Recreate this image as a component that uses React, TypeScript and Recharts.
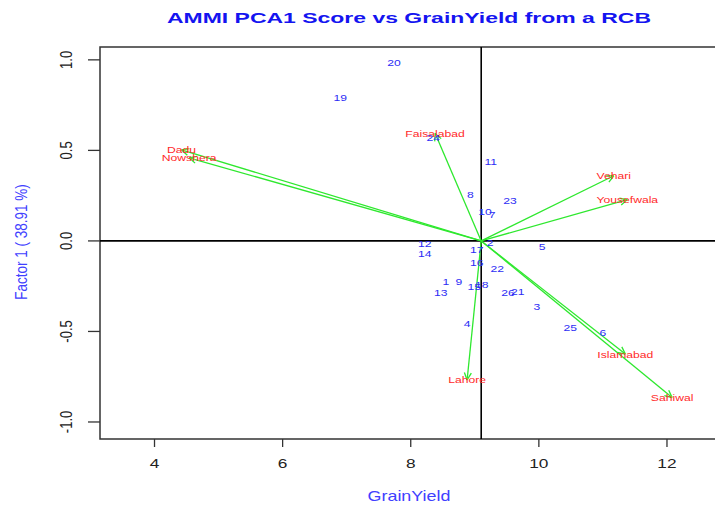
import {
  ScatterChart,
  Scatter,
  XAxis,
  YAxis,
  ReferenceLine,
  ReferenceArea,
} from "recharts";

// genotype scores (GrainYield, PCA1)
const genotypes = [
  "1", "2", "3", "4", "5", "6", "7", "8", "9", "10", "11", "12", "13",
  "14", "15", "16", "17", "18", "19", "20", "21", "22", "23", "24", "25", "26",
];
const genoYield = [
  8.55, 9.24, 9.97, 8.88, 10.05, 11.0, 9.27, 8.93, 8.75, 9.16, 9.25, 8.22, 8.47,
  8.22, 8.99, 9.03, 9.03, 9.11, 6.9, 7.74, 9.67, 9.35, 9.55, 8.35, 10.49, 9.52,
];
const genoPca1 = [
  -0.222, -0.007, -0.36, -0.454, -0.029, -0.504, 0.147, 0.258, -0.222, 0.164, 0.44, -0.012, -0.283,
  -0.067, -0.25, -0.117, -0.045, -0.239, 0.79, 0.986, -0.277, -0.15, 0.225, 0.572, -0.476, -0.283,
];

// environment scores
const environments = ["Dadu", "Nowshera", "Faisalabad", "Vehari", "Yousefwala", "Islamabad", "Sahiwal", "Lahore"];
const envYield = [4.42, 4.54, 8.38, 11.17, 11.38, 11.35, 12.08, 8.88];
const envPca1 = [0.503, 0.459, 0.594, 0.36, 0.228, -0.625, -0.865, -0.768];

const meanYield = 9.1;

const xTicks = [4, 6, 8, 10, 12];
const yTicks = [-1, -0.5, 0, 0.5, 1];
const yTickLabels = ["-1.0", "-0.5", "0.0", "0.5", "1.0"];

const xDomain = [3.149, 13.14];
const yDomain = [-1.094, 1.071];

const genoData = genotypes.map((g, i) => ({ name: g, x: genoYield[i], y: genoPca1[i] }));
const envData = environments.map((e, i) => ({ name: e, x: envYield[i], y: envPca1[i] }));

const FONT = "'Liberation Sans', Arial, sans-serif";
const SX = 1.28; // the picture is stretched sideways

const SText = ({ x, y, size, fill, weight, rotate, children, baseline = "central" }: any) => {
  const t = `translate(${x},${y}) scale(${SX},1)` + (rotate ? ` rotate(${rotate})` : "");
  return (
    <text
      transform={t}
      fontSize={size}
      fill={fill}
      fontWeight={weight}
      textAnchor="middle"
      dominantBaseline={baseline}
      fontFamily={FONT}
    >
      {children}
    </text>
  );
};

const XTick = ({ x, y, payload }: any) => (
  <SText x={x} y={y + 19} size={13.5} fill="#222" baseline="auto">
    {payload.value}
  </SText>
);

const YTick = ({ x, y, payload }: any) => {
  const idx = yTicks.indexOf(payload.value);
  return (
    <SText x={x - 20} y={y} size={13} fill="#222" rotate={-90}>
      {yTickLabels[idx]}
    </SText>
  );
};

const Arrow = (p: any) => {
  const { x1, y1, x2, y2 } = p;
  const ang = Math.atan2(y2 - y1, x2 - x1);
  const L = 8;
  const a = Math.PI / 7;
  const stroke = "#2ee82e";
  return (
    <g>
      <line x1={x1} y1={y1} x2={x2} y2={y2} stroke={stroke} strokeWidth={1.3} />
      <line x1={x2} y1={y2} x2={x2 - L * Math.cos(ang - a)} y2={y2 - L * Math.sin(ang - a)} stroke={stroke} strokeWidth={1.3} />
      <line x1={x2} y1={y2} x2={x2 - L * Math.cos(ang + a)} y2={y2 - L * Math.sin(ang + a)} stroke={stroke} strokeWidth={1.3} />
    </g>
  );
};

const EnvLabel = ({ cx, cy, payload }: any) => (
  <SText x={cx} y={cy} size={9.5} fill="#ff2a2a">
    {payload.name}
  </SText>
);

const GenoLabel = ({ cx, cy, payload }: any) => (
  <SText x={cx} y={cy} size={9.5} fill="#2d2df5">
    {payload.name}
  </SText>
);

export default function App() {
  return (
    <div style={{ position: "absolute", left: 0, top: 0, width: 715, height: 508, overflow: "hidden", background: "#fff" }}>
      <ScatterChart width={760} height={508} margin={{ top: 47, right: 20, bottom: 0, left: 0 }}>
        <XAxis
          type="number"
          dataKey="x"
          domain={xDomain}
          ticks={xTicks}
          allowDataOverflow
          height={69}
          axisLine={false}
          tickSize={8}
          tickLine={{ stroke: "#333", strokeWidth: 1.3 }}
          tick={<XTick />}
        />
        <YAxis
          type="number"
          dataKey="y"
          domain={yDomain}
          ticks={yTicks}
          allowDataOverflow
          width={100}
          axisLine={false}
          tickSize={12}
          tickLine={{ stroke: "#333", strokeWidth: 1.3 }}
          tick={<YTick />}
        />
        <ReferenceArea
          x1={xDomain[0]}
          x2={xDomain[1]}
          y1={yDomain[0]}
          y2={yDomain[1]}
          fill="none"
          stroke="#333"
          strokeWidth={1.5}
          fillOpacity={0}
        />
        <ReferenceLine x={meanYield} stroke="#000" strokeWidth={1.6} />
        <ReferenceLine y={0} stroke="#000" strokeWidth={1.6} />
        <Scatter data={envData} isAnimationActive={false} shape={<EnvLabel />} />
        {envData.map((e) => (
          <ReferenceLine
            key={e.name}
            segment={[{ x: meanYield, y: 0 }, { x: e.x, y: e.y }]}
            shape={Arrow}
          />
        ))}
        <Scatter data={genoData} isAnimationActive={false} shape={<GenoLabel />} />
      </ScatterChart>
      <svg width={715} height={508} style={{ position: "absolute", left: 0, top: 0, pointerEvents: "none" }}>
        <text
          x={409}
          y={23}
          fontSize={15.5}
          fontWeight="bold"
          fill="#1414f0"
          textAnchor="middle"
          fontFamily={FONT}
          textLength={484}
          lengthAdjust="spacingAndGlyphs"
        >
          AMMI PCA1 Score vs GrainYield from a RCB
        </text>
        <SText x={409} y={501} size={14} fill="#4040ff" baseline="auto">
          GrainYield
        </SText>
        <SText x={21} y={242} size={13.5} fill="#4040ff" rotate={-90}>
          Factor 1 ( 38.91 %)
        </SText>
      </svg>
    </div>
  );
}
